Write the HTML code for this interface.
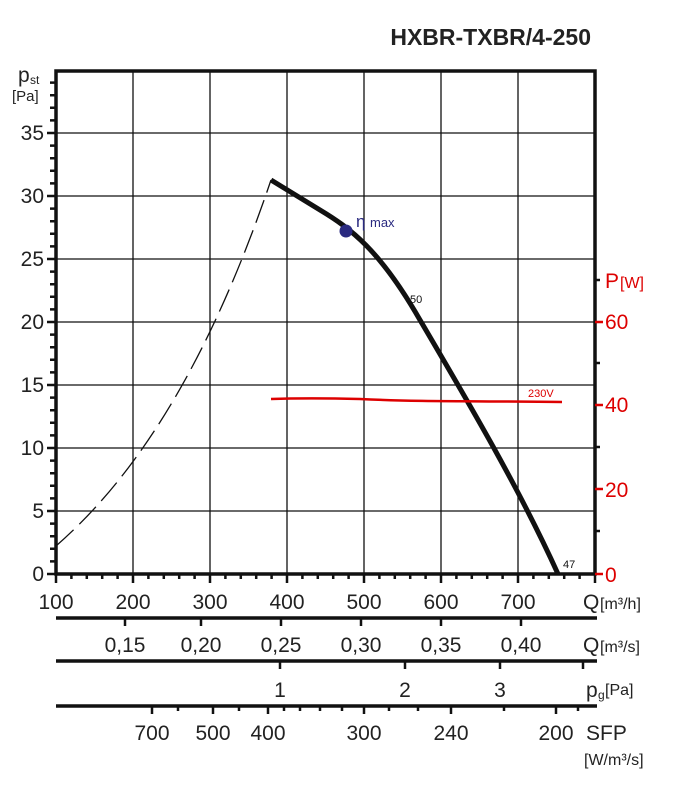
<!DOCTYPE html>
<html><head><style>body{margin:0;background:#fff}svg{display:block}</style></head><body>
<svg width="680" height="795" viewBox="0 0 680 795" xmlns="http://www.w3.org/2000/svg" font-family="Liberation Sans, sans-serif">
<text x="591" y="45" text-anchor="end" font-size="23" font-weight="bold" fill="#222">HXBR-TXBR/4-250</text>
<g stroke="#111" stroke-width="1.3">
<line x1="133" y1="71" x2="133" y2="574"/><line x1="210" y1="71" x2="210" y2="574"/><line x1="287" y1="71" x2="287" y2="574"/><line x1="364" y1="71" x2="364" y2="574"/><line x1="441" y1="71" x2="441" y2="574"/><line x1="518" y1="71" x2="518" y2="574"/>
<line x1="56" y1="133" x2="595" y2="133"/><line x1="56" y1="196" x2="595" y2="196"/><line x1="56" y1="259" x2="595" y2="259"/><line x1="56" y1="322" x2="595" y2="322"/><line x1="56" y1="385" x2="595" y2="385"/><line x1="56" y1="448" x2="595" y2="448"/><line x1="56" y1="511" x2="595" y2="511"/>
</g>
<rect x="56" y="71" width="539" height="503" fill="none" stroke="#111" stroke-width="3.5"/>
<path stroke="#111" stroke-width="2.5" fill="none" d="M50,561.4h6M50,548.8h6M50,536.2h6M50,523.6h6M50,498.4h6M50,485.8h6M50,473.2h6M50,460.6h6M50,435.4h6M50,422.8h6M50,410.2h6M50,397.6h6M50,372.4h6M50,359.8h6M50,347.2h6M50,334.6h6M50,309.4h6M50,296.8h6M50,284.2h6M50,271.6h6M50,246.4h6M50,233.8h6M50,221.2h6M50,208.6h6M50,183.4h6M50,170.8h6M50,158.2h6M50,145.6h6M50,120.4h6M50,107.8h6M50,95.2h6M50,82.6h6
M47,574h9M47,511h9M47,448h9M47,385h9M47,322h9M47,259h9M47,196h9M47,133h9
M56,574v9M71.4,574v5M86.8,574v5M102.2,574v5M117.6,574v5M133,574v9M148.4,574v5M163.8,574v5M179.2,574v5M194.6,574v5M210,574v9M225.4,574v5M240.8,574v5M256.2,574v5M271.6,574v5M287,574v9M302.4,574v5M317.8,574v5M333.2,574v5M348.6,574v5M364,574v9M379.4,574v5M394.8,574v5M410.2,574v5M425.6,574v5M441,574v9M456.4,574v5M471.8,574v5M487.2,574v5M502.6,574v5M518,574v9M533.4,574v5M548.8,574v5M564.2,574v5M579.6,574v5M595,574v9"/>
<path d="M56,546 C120,490 200,390 271,180" fill="none" stroke="#111" stroke-width="1.3" stroke-dasharray="24,8"/>
<path d="M271,180 L320,210 C350,228 380,250 420,320 C470,405 520,490 558,574" fill="none" stroke="#111" stroke-width="5"/>
<circle cx="346" cy="231" r="6.5" fill="#2a2a80"/>
<text x="356" y="227" font-size="17" fill="#2a2a80">η</text><text x="370" y="227" font-size="13" fill="#2a2a80">max</text>
<text x="410" y="303" font-size="11" fill="#111">50</text>
<text x="563" y="568" font-size="11" fill="#111">47</text>
<path d="M271,399 C300,398 320,398 360,399 C420,402 480,401 562,402" fill="none" stroke="#d00" stroke-width="2.5"/>
<text x="528" y="397" font-size="11" fill="#d00">230V</text>
<g font-size="21" fill="#222" text-anchor="end">
<text x="44" y="581">0</text><text x="44" y="518">5</text><text x="44" y="455">10</text><text x="44" y="392">15</text><text x="44" y="329">20</text><text x="44" y="266">25</text><text x="44" y="203">30</text><text x="44" y="140">35</text>
</g>
<text x="18" y="82" font-size="21" fill="#222">p</text><text x="30" y="84" font-size="12" fill="#222">st</text>
<text x="12" y="101" font-size="15" fill="#222">[Pa]</text>
<g font-size="21" fill="#d00">
<text x="605" y="582">0</text><text x="605" y="497">20</text><text x="605" y="412">40</text><text x="605" y="329">60</text>
<text x="605" y="288">P</text><text x="620" y="288" font-size="16">[W]</text>
</g>
<g stroke="#d00" stroke-width="2.5"><line x1="595" y1="574" x2="603" y2="574"/><line x1="595" y1="489" x2="603" y2="489"/><line x1="595" y1="405" x2="603" y2="405"/><line x1="595" y1="322" x2="603" y2="322"/></g>
<g stroke="#111" stroke-width="2.5">
<line x1="595" y1="531" x2="600" y2="531"/><line x1="595" y1="447" x2="600" y2="447"/><line x1="595" y1="363" x2="600" y2="363"/><line x1="595" y1="280" x2="600" y2="280"/>
</g>
<g font-size="21" fill="#222" text-anchor="middle">
<text x="56" y="609">100</text><text x="133" y="609">200</text><text x="210" y="609">300</text><text x="287" y="609">400</text><text x="364" y="609">500</text><text x="441" y="609">600</text><text x="518" y="609">700</text>
<text x="125" y="652">0,15</text><text x="201" y="652">0,20</text><text x="281" y="652">0,25</text><text x="361" y="652">0,30</text><text x="441" y="652">0,35</text><text x="521" y="652">0,40</text>
<text x="280" y="697">1</text><text x="405" y="697">2</text><text x="500" y="697">3</text>
<text x="152" y="740">700</text><text x="213" y="740">500</text><text x="268" y="740">400</text><text x="364" y="740">300</text><text x="451" y="740">240</text><text x="556" y="740">200</text>
</g>
<g font-size="21" fill="#222">
<text x="583" y="609">Q</text><text x="600" y="609" font-size="16">[m³/h]</text>
<text x="583" y="652">Q</text><text x="600" y="652" font-size="16">[m³/s]</text>
<text x="586" y="697">p</text><text x="598" y="699" font-size="12">g</text><text x="605" y="695" font-size="16">[Pa]</text>
<text x="586" y="740">SFP</text><text x="584" y="765" font-size="16">[W/m³/s]</text>
</g>
<g stroke="#111" stroke-width="3.5">
<line x1="56" y1="618" x2="597" y2="618"/><line x1="56" y1="661" x2="597" y2="661"/><line x1="56" y1="706" x2="597" y2="706"/>
</g>
<g stroke="#111" stroke-width="2.5">
<line x1="125" y1="618" x2="125" y2="626"/><line x1="201" y1="618" x2="201" y2="626"/><line x1="281" y1="618" x2="281" y2="626"/><line x1="361" y1="618" x2="361" y2="626"/><line x1="441" y1="618" x2="441" y2="626"/><line x1="521" y1="618" x2="521" y2="626"/>
<line x1="280" y1="661" x2="280" y2="669"/><line x1="405" y1="661" x2="405" y2="669"/><line x1="500" y1="661" x2="500" y2="669"/><line x1="583" y1="661" x2="583" y2="669"/>
<line x1="152" y1="706" x2="152" y2="714"/><line x1="213" y1="706" x2="213" y2="714"/><line x1="268" y1="706" x2="268" y2="714"/><line x1="364" y1="706" x2="364" y2="714"/><line x1="451" y1="706" x2="451" y2="714"/><line x1="556" y1="706" x2="556" y2="714"/>
<line x1="178" y1="706" x2="178" y2="711"/><line x1="239" y1="706" x2="239" y2="711"/><line x1="284" y1="706" x2="284" y2="711"/><line x1="300" y1="706" x2="300" y2="711"/><line x1="320" y1="706" x2="320" y2="711"/><line x1="342" y1="706" x2="342" y2="711"/><line x1="389" y1="706" x2="389" y2="711"/><line x1="418" y1="706" x2="418" y2="711"/><line x1="504" y1="706" x2="504" y2="711"/><line x1="578" y1="706" x2="578" y2="711"/>
</g>
</svg>
</body></html>
